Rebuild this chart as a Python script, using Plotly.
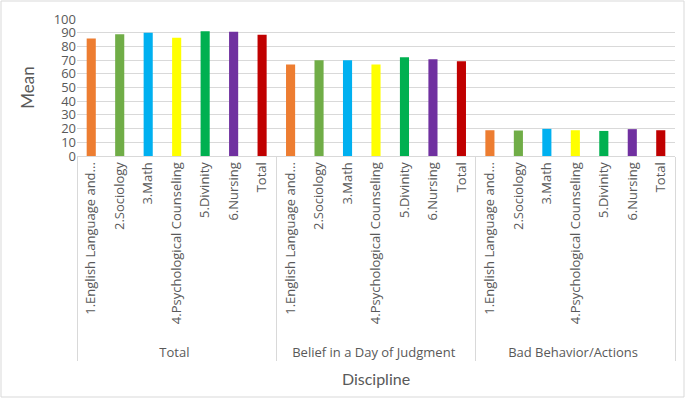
import plotly.graph_objects as go

groups = ["Total", "Belief in a Day of Judgment", "Bad Behavior/Actions"]
disciplines = ["1.English Language and...", "2.Sociology", "3.Math",
               "4.Psychological Counseling", "5.Divinity", "6.Nursing", "Total"]
colors = ["#ED7D31", "#70AD47", "#00B0F0", "#FFFF00", "#00B050", "#7030A0", "#C00000"]

total_means = [85.8, 88.8, 90.0, 86.3, 91.0, 90.7, 88.5]
belief_means = [66.7, 69.9, 69.9, 66.7, 72.1, 70.7, 69.2]
bad_means = [18.8, 18.6, 19.8, 18.8, 18.3, 19.6, 18.8]

y_ticks = list(range(0, 101, 10))

series = [total_means, belief_means, bad_means]
outer, inner, vals, cols = [], [], [], []
for g, s in zip(groups, series):
    for d, v, c in zip(disciplines, s, colors):
        outer.append(g)
        inner.append("\u00a0\u00a0" + d)
        vals.append(v)
        cols.append(c)

W, H = 685, 398
L, R, T, B = 77, 10, 19, 242
pw, ph = W - L - R, H - T - B

fig = go.Figure(go.Bar(
    x=[outer, inner], y=vals,
    marker=dict(color=cols, line=dict(width=0)),
    width=0.32,
))

fig.update_layout(
    width=W, height=H,
    margin=dict(l=L, r=R, t=T, b=B),
    paper_bgcolor="white", plot_bgcolor="white",
    showlegend=False,
    font=dict(family="Open Sans", color="#595959", size=13),
    xaxis=dict(
        type="multicategory",
        automargin=False,
        tickangle=-90,
        showline=True, linecolor="#D9D9D9", linewidth=1,
        showdividers=True, dividercolor="#D9D9D9", dividerwidth=1,
        ticks="", tickfont=dict(size=13, family="Open Sans", color="#595959"),
        title=dict(text="Discipline", font=dict(family="Lato", size=16, color="#595959"),
                   standoff=13),
    ),
    yaxis=dict(
        automargin=False,
        range=[0, 100], tickvals=y_ticks,
        showgrid=True, gridcolor="#D9D9D9", gridwidth=1,
        zeroline=False,
        tickfont=dict(size=13, family="Open Sans", color="#595959"),
        title=dict(text="Mean", font=dict(family="Lato", size=17, color="#595959"), standoff=14),
    ),
    shapes=[dict(
        type="rect", xref="paper", yref="paper",
        x0=(1.0 - L) / pw, x1=(W - 1.0 - L) / pw,
        y0=(1.0 - B) / ph, y1=(H - 1.0 - B) / ph,
        line=dict(color="#D9D9D9", width=1), layer="below",
    )],
)

fig.write_html("out.html", config={"displayModeBar": False},
               post_script="document.body.style.margin='0';document.body.style.padding='0';")
